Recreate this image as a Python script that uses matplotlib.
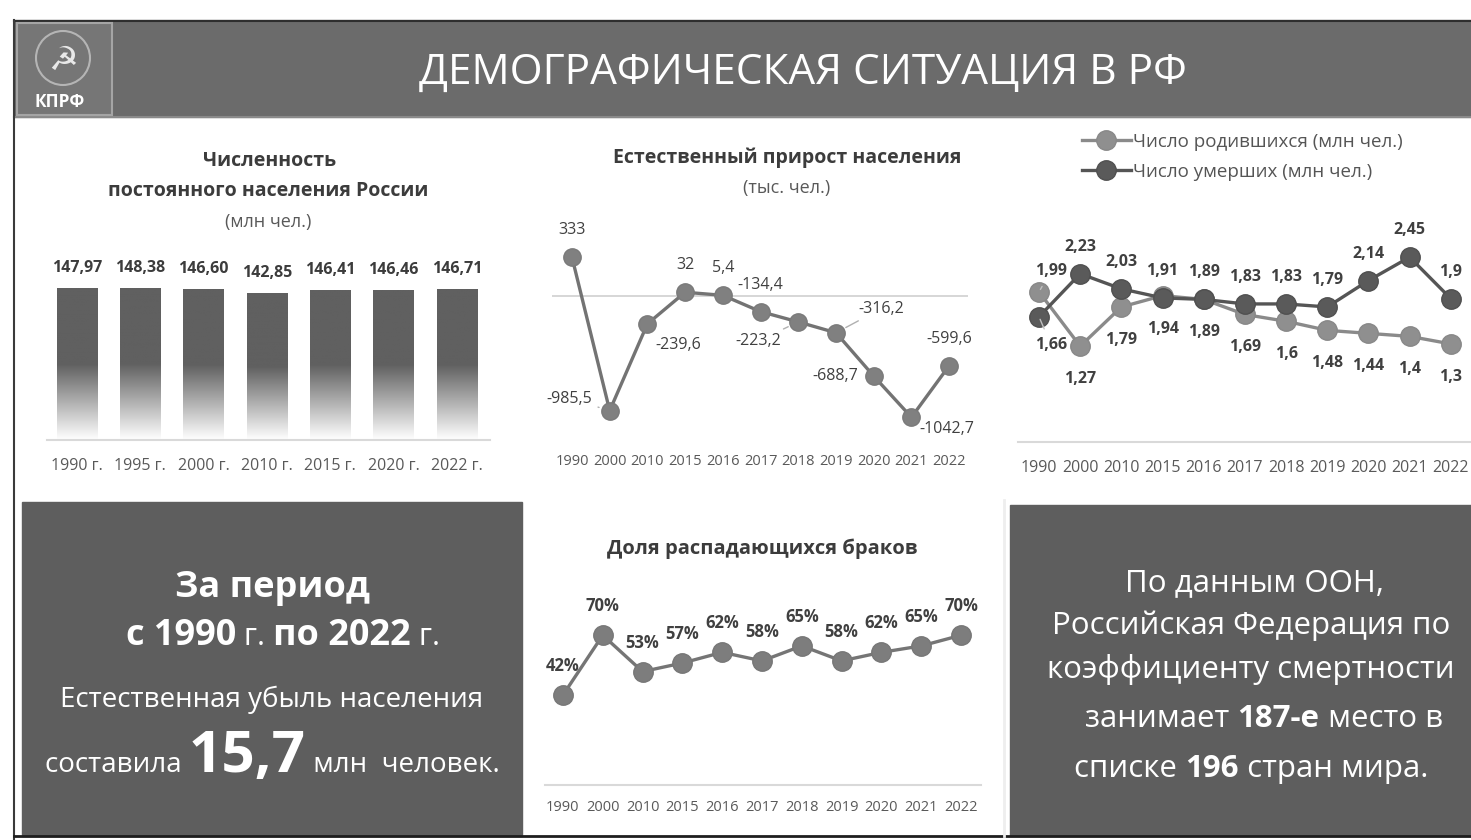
import numpy as np
import matplotlib
matplotlib.use('Agg')
import matplotlib.pyplot as plt
from matplotlib.patches import Rectangle, Circle
from matplotlib.colors import LinearSegmentedColormap

plt.rcParams['font.family'] = ['Open Sans', 'DejaVu Sans']

# ---- data ----
pop_years = ['1990 г.', '1995 г.', '2000 г.', '2010 г.', '2015 г.', '2020 г.', '2022 г.']
pop_values = [147.97, 148.38, 146.60, 142.85, 146.41, 146.46, 146.71]
pop_labels = ['147,97', '148,38', '146,60', '142,85', '146,41', '146,46', '146,71']

years = ['1990', '2000', '2010', '2015', '2016', '2017', '2018', '2019', '2020', '2021', '2022']
growth = [333, -985.5, -239.6, 32, 5.4, -134.4, -223.2, -316.2, -688.7, -1042.7, -599.6]
growth_labels = ['333', '-985,5', '-239,6', '32', '5,4', '-134,4', '-223,2', '-316,2', '-688,7', '-1042,7', '-599,6']

births = [1.99, 1.27, 1.79, 1.94, 1.89, 1.69, 1.6, 1.48, 1.44, 1.4, 1.3]
deaths = [1.66, 2.23, 2.03, 1.91, 1.89, 1.83, 1.83, 1.79, 2.14, 2.45, 1.9]

divorce = [42, 70, 53, 57, 62, 58, 65, 58, 62, 65, 70]

W, H = 1471, 840
fig = plt.figure(figsize=(W / 100, H / 100), dpi=100)
fig.patch.set_facecolor('white')


def ax_px(x0, y0, x1, y1):
    # axes from pixel box (y from top)
    return fig.add_axes([x0 / W, 1 - y1 / H, (x1 - x0) / W, (y1 - y0) / H])


bg = fig.add_axes([0, 0, 1, 1])
bg.set_xlim(0, W)
bg.set_ylim(H, 0)
bg.axis('off')
renderer = fig.canvas.get_renderer()

# header bar
bg.add_patch(Rectangle((14, 20), W - 14, 97, color='#6b6b6b', zorder=1))
bg.plot([14, W], [20.5, 20.5], color='#2e2e2e', lw=1.5, zorder=2)
bg.plot([14, W], [117, 117], color='#8a8a8a', lw=1.5, zorder=2)
bg.add_patch(Rectangle((17, 23), 95, 92, facecolor='#767676', edgecolor='#a5a5a5', lw=1.5, zorder=2))
bg.add_patch(Circle((63, 58), 27, facecolor='none', edgecolor='#b5b5b5', lw=1.5, zorder=3))
bg.text(63, 60, '☭', family='DejaVu Sans', fontsize=24, color='#e8e8e8', ha='center', va='center', zorder=4)
bg.text(60, 102, 'КПРФ', fontsize=12.5, fontweight='bold', color='white', ha='center', va='center', zorder=4)
bg.text(803, 84, 'ДЕМОГРАФИЧЕСКАЯ СИТУАЦИЯ В РФ', fontsize=30.5, color='white', ha='center', va='baseline', zorder=4)

# frame lines
bg.plot([14, 14], [20, H], color='#3a3a3a', lw=1.5)
bg.plot([14, W], [836, 836], color='#1e1e1e', lw=2)

# dark boxes
bg.add_patch(Rectangle((22, 502), 500, 334, color='#5e5e5e', zorder=1))
bg.add_patch(Rectangle((1010, 505), W - 1010, 331, color='#5e5e5e', zorder=1))
bg.plot([1004, 1004], [500, 836], color='#eeeeee', lw=2)


def run_width(s, **kw):
    t1 = bg.text(0, 0, 'x' + s + 'x', **kw)
    t2 = bg.text(0, 0, 'xx', **kw)
    w = t1.get_window_extent(renderer).width - t2.get_window_extent(renderer).width
    t1.remove()
    t2.remove()
    return w


def rich_line(xc, y, parts, base):
    widths = [run_width(s, **{**base, **st}) for s, st in parts]
    x = xc - sum(widths) / 2
    for (s, st), w in zip(parts, widths):
        bg.text(x, y, s, ha='left', va='baseline', zorder=5, **{**base, **st})
        x += w


B = {'fontweight': 'bold'}
N = {}
white = {'color': 'white'}

# left box
bg.text(272, 597, 'За период', fontsize=26, fontweight='bold', color='white', ha='center', va='baseline', zorder=5)
rich_line(283, 645, [('с 1990', {'fontsize': 26, 'fontweight': 'bold'}),
                     (' г. ', {'fontsize': 22}),
                     ('по 2022', {'fontsize': 26, 'fontweight': 'bold'}),
                     (' г.', {'fontsize': 22})], white)
bg.text(272, 707, 'Естественная убыль населения', fontsize=20, color='white', ha='center', va='baseline', zorder=5)
rich_line(272, 772, [('составила ', {'fontsize': 20}),
                     ('15,7', {'fontsize': 42, 'fontweight': 'bold'}),
                     (' млн  человек.', {'fontsize': 20})], white)

# right box
rbase = {'color': 'white', 'fontsize': 22.5}
bg.text(1255, 591, 'По данным ООН,', ha='center', va='baseline', zorder=5, **rbase)
bg.text(1251, 634, 'Российская Федерация по', ha='center', va='baseline', zorder=5, **rbase)
bg.text(1251, 678, 'коэффициенту смертности', ha='center', va='baseline', zorder=5, **rbase)
rich_line(1264, 727, [('занимает ', N), ('187-е', B), (' место в', N)], rbase)
rich_line(1251, 777, [('списке ', N), ('196', B), (' стран мира.', N)], rbase)

title_kw = dict(fontsize=14, fontweight='bold', color='#3c3c3c', ha='center', va='center')
sub_kw = dict(fontsize=13, color='#595959', ha='center', va='center')

# ---- panel 1: population bars ----
bg.text(270, 161, 'Численность', **title_kw)
bg.text(268, 191, 'постоянного населения России', **title_kw)
bg.text(268, 222, '(млн чел.)', **sub_kw)

ax1 = ax_px(47, 250, 490, 440)
ax1.set_facecolor('none')
xs = np.arange(len(pop_values))
bars = ax1.bar(xs, pop_values, width=0.64, facecolor='none', edgecolor='none')
cmap = LinearSegmentedColormap.from_list('fade', ['#ffffff', '#606060'])
for b in bars:
    grad = np.clip(np.linspace(0, 1, 200) / 0.5, 0, 1).reshape(-1, 1)
    im = ax1.imshow(grad, extent=[b.get_x(), b.get_x() + b.get_width(), 0, b.get_height()],
                    origin='lower', aspect='auto', cmap=cmap, vmin=0, vmax=1, zorder=2)
    im.set_clip_path(b)
for x, v, lab in zip(xs, pop_values, pop_labels):
    ax1.annotate(lab, (x, v), xytext=(0, 20), textcoords='offset pixels', ha='center', va='center',
                 fontsize=11.5, fontweight='bold', color='#3c3c3c')
ax1.set_xlim(-0.47, 6.52)
ax1.set_ylim(0, 185)
ax1.set_xticks(xs)
ax1.set_xticklabels(pop_years, fontsize=11.5, color='#595959')
ax1.tick_params(axis='x', length=0, pad=13)
ax1.set_yticks([])
for s in ['top', 'left', 'right']:
    ax1.spines[s].set_visible(False)
ax1.spines['bottom'].set_color('#d9d9d9')
ax1.spines['bottom'].set_linewidth(1.5)

# ---- panel 2: natural growth ----
bg.text(787, 158, 'Естественный прирост населения', **title_kw)
bg.text(787, 188, '(тыс. чел.)', **sub_kw)

ax2 = ax_px(552, 220, 968, 440)
ax2.set_facecolor('none')
xi = np.arange(len(years))
ax2.axhline(0, color='#d0d0d0', lw=1.2, zorder=1)
ax2.plot(xi, growth, color='#737373', lw=2.4, marker='o', ms=12.5,
         markerfacecolor='#808080', markeredgecolor='#7a7a7a', zorder=3)
g_off = [(0, -27), (-40, -12), (31, 21), (0, -27), (0, -27), (0, -27),
         (-40, 19), (45, -24), (-38, 0), (35, 12), (0, -27)]
leader = [False, True, False, False, False, False, True, True, False, False, False]
for x, v, lab, (dx, dy), ld in zip(xi, growth, growth_labels, g_off, leader):
    ap = dict(arrowstyle='-', color='#b0b0b0', lw=1, shrinkA=2, shrinkB=8) if ld else None
    ax2.annotate(lab, (x, v), xytext=(dx, -dy), textcoords='offset pixels', ha='center', va='center',
                 fontsize=11.5, color='#404040', arrowprops=ap, zorder=4)
ax2.set_xlim(-0.53, 10.5)
ax2.set_ylim(-1238, 653)
ax2.set_xticks(xi)
ax2.set_xticklabels(years, fontsize=10.5, color='#595959')
ax2.tick_params(axis='x', length=0, pad=10)
ax2.set_yticks([])
for s in ax2.spines.values():
    s.set_visible(False)

# ---- panel 3: births and deaths ----
ax3 = ax_px(1018, 230, 1471, 442)
ax3.set_facecolor('none')
l_b, = ax3.plot(xi, births, color='#8a8a8a', lw=2.4, marker='o', ms=14,
                markerfacecolor='#8f8f8f', markeredgecolor='#888888', zorder=3,
                label='Число родившихся (млн чел.)')
l_d, = ax3.plot(xi, deaths, color='#555555', lw=2.4, marker='o', ms=14,
                markerfacecolor='#5a5a5a', markeredgecolor='#505050', zorder=4,
                label='Число умерших (млн чел.)')
for i, (b, d) in enumerate(zip(births, deaths)):
    bl = f'{b:g}'.replace('.', ',')
    dl = f'{d:g}'.replace('.', ',')
    if i == 0:
        ax3.annotate(bl, (i, b), xytext=(12, 21), textcoords='offset pixels', ha='center', va='center',
                     fontsize=11.5, fontweight='bold', color='#404040', zorder=5,
                     arrowprops=dict(arrowstyle='-', color='#c0c0c0', lw=1, shrinkA=4, shrinkB=2))
        ax3.annotate(dl, (i, d), xytext=(12, -28), textcoords='offset pixels', ha='center', va='center',
                     fontsize=11.5, fontweight='bold', color='#404040', zorder=5,
                     arrowprops=dict(arrowstyle='-', color='#c0c0c0', lw=1, shrinkA=4, shrinkB=2))
    else:
        ax3.annotate(bl, (i, b), xytext=(0, -33), textcoords='offset pixels', ha='center', va='center',
                     fontsize=11.5, fontweight='bold', color='#404040', zorder=5)
        ax3.annotate(dl, (i, d), xytext=(0, 27), textcoords='offset pixels', ha='center', va='center',
                     fontsize=11.5, fontweight='bold', color='#404040', zorder=5)
ax3.set_xlim(-0.51, 10.49)
ax3.set_ylim(0, 2.81)
ax3.set_xticks(xi)
ax3.set_xticklabels(years, fontsize=11.5, color='#595959')
ax3.tick_params(axis='x', length=0, pad=13)
ax3.set_yticks([])
for s in ['top', 'left', 'right']:
    ax3.spines[s].set_visible(False)
ax3.spines['bottom'].set_color('#d9d9d9')
ax3.spines['bottom'].set_linewidth(1.5)
fig.legend(handles=[l_b, l_d], loc='upper left', bbox_to_anchor=(1082 / W, 1 - 133 / H),
           frameon=False, fontsize=13.5, labelcolor='#555555', handlelength=2.6,
           handletextpad=0.1, labelspacing=0.62, borderaxespad=0, borderpad=0)

# ---- panel 4: divorce share ----
bg.text(762, 549, 'Доля распадающихся браков', fontsize=14.5, fontweight='bold', color='#3c3c3c',
        ha='center', va='center')
ax4 = ax_px(545, 580, 981, 785)
ax4.set_facecolor('none')
ax4.plot(xi, divorce, color='#757575', lw=2.4, marker='o', ms=14,
         markerfacecolor='#7d7d7d', markeredgecolor='#777777', zorder=3)
for x, v in zip(xi, divorce):
    ax4.annotate(f'{v}%', (x, v), xytext=(0, 29), textcoords='offset pixels', ha='center', va='center',
                 fontsize=12, fontweight='bold', color='#404040', zorder=4)
ax4.set_xlim(-0.45, 10.5)
ax4.set_ylim(0, 95.8)
ax4.set_xticks(xi)
ax4.set_xticklabels(years, fontsize=10.5, color='#595959')
ax4.tick_params(axis='x', length=0, pad=11)
ax4.set_yticks([])
for s in ['top', 'left', 'right']:
    ax4.spines[s].set_visible(False)
ax4.spines['bottom'].set_color('#d9d9d9')
ax4.spines['bottom'].set_linewidth(1.5)

fig.savefig('out.png', dpi=100)
